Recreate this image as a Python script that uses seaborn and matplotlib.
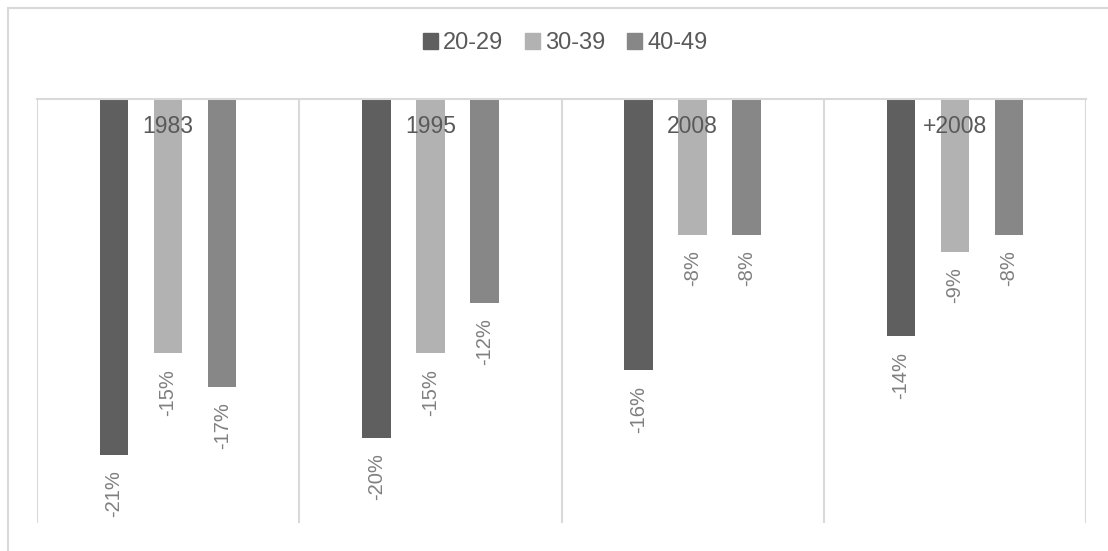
import matplotlib
matplotlib.use("Agg")
import matplotlib.pyplot as plt
import seaborn as sns
import pandas as pd
from matplotlib.patches import Rectangle

periods = ["1983", "1995", "2008", "+2008"]
age_groups = ["20-29", "30-39", "40-49"]
v_20_29 = [-21, -20, -16, -14]
v_30_39 = [-15, -15, -8, -9]
v_40_49 = [-17, -12, -8, -8]
colors = ["#5f5f5f", "#b2b2b2", "#878787"]

rows = []
for g, vals in zip(age_groups, [v_20_29, v_30_39, v_40_49]):
    for p, v in zip(periods, vals):
        rows.append({"period": p, "age": g, "value": v})
df = pd.DataFrame(rows)

sns.set_theme(style="white")
plt.rcParams["font.family"] = ["Liberation Sans", "DejaVu Sans"]

fig = plt.figure(figsize=(11.08, 5.51), dpi=100)
ax = fig.add_axes([37/1108, 1-523/551, (1086-37)/1108, (523-99)/551])

sns.barplot(data=df, x="period", y="value", hue="age", order=periods,
            hue_order=age_groups, palette=colors, width=0.618, gap=0.47,
            saturation=1, ax=ax, legend=True, edgecolor="none", linewidth=0)

ax.set_ylim(-25, 0)
ax.set_xlim(-0.5, 3.5)
ax.set_yticks([])
ax.set_xticks([])
ax.set_xlabel("")
ax.set_ylabel("")
for s in ["left", "right", "bottom"]:
    ax.spines[s].set_visible(False)
ax.spines["top"].set_color("#d9d9d9")
ax.spines["top"].set_linewidth(1.5)
for xv in [-0.5, 0.5, 1.5, 2.5, 3.5]:
    ax.axvline(xv, color="#d9d9d9", lw=1.5, zorder=0)

for cont in ax.containers:
    ax.bar_label(cont, labels=[f"{int(v)}%" for v in cont.datavalues],
                 rotation=90, padding=11, fontsize=14.5, color="#7f7f7f")

for i, p in enumerate(periods):
    ax.text(i, -1.6, p, ha="center", va="center", fontsize=16.5,
            color="#595959")

ax.legend_.remove()
handles = [Rectangle((0, 0), 1, 1, color=c) for c in colors]
fig.legend(handles, age_groups, loc="center", bbox_to_anchor=(565/1108, 1-43/551),
           ncol=3, frameon=False, fontsize=17, handlelength=0.65,
           handleheight=0.65, handletextpad=0.2, columnspacing=0.93,
           labelcolor="#595959")

fig.patches.append(Rectangle((8/1108, -0.05), 1.0, 1.05 - 8/551,
                             transform=fig.transFigure, fill=False,
                             edgecolor="#d9d9d9", lw=1.5))

fig.savefig("out.png", dpi=100)
